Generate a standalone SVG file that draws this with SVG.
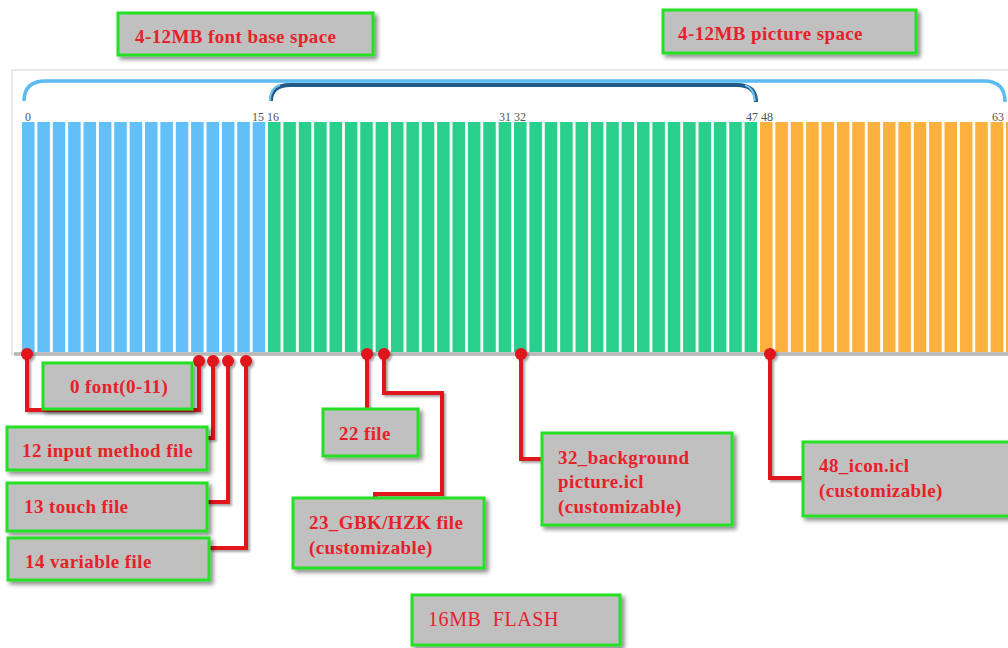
<svg xmlns="http://www.w3.org/2000/svg" width="1008" height="648" viewBox="0 0 1008 648">
<style>
.box{fill:#c0c0c0;stroke:#27e027;stroke-width:3;filter:url(#sh)}
.t{font-family:"Liberation Serif","Times New Roman",serif;font-weight:bold;font-size:19px;letter-spacing:0.4px;fill:#e8202a}
.tn{font-family:"Liberation Serif","Times New Roman",serif;font-size:20px;letter-spacing:0.6px;fill:#e8202a;white-space:pre}
.num{font-family:"Liberation Serif","Times New Roman",serif;font-size:12px;fill:#555}
.c{fill:none;stroke:#e0121a;stroke-width:4;stroke-linejoin:miter}
.dot{fill:#e0121a}
</style>
<defs>
<filter id="sh" x="-10%" y="-20%" width="130%" height="150%">
<feDropShadow dx="3" dy="3" stdDeviation="2" flood-color="#000" flood-opacity="0.45"/>
</filter>
<filter id="lsh" x="-20%" y="-20%" width="140%" height="140%">
<feDropShadow dx="2" dy="2" stdDeviation="1.2" flood-color="#000" flood-opacity="0.35"/>
</filter>
<pattern id="pb" patternUnits="userSpaceOnUse" x="22" y="0" width="15.375" height="648"><rect x="0" y="0" width="12.6" height="648" fill="#62bff7"/></pattern>
<pattern id="pg" patternUnits="userSpaceOnUse" x="22" y="0" width="15.375" height="648"><rect x="0" y="0" width="12.6" height="648" fill="#2bcf8d"/></pattern>
<pattern id="po" patternUnits="userSpaceOnUse" x="22" y="0" width="15.375" height="648"><rect x="0" y="0" width="12.6" height="648" fill="#fcb03d"/></pattern>
</defs>
<rect width="1008" height="648" fill="#ffffff"/>
<g id="panel">
<rect x="12" y="70" width="1010" height="284" fill="#ffffff" stroke="#e2e2e2" stroke-width="1.5"/>
<rect x="14" y="352" width="1000" height="4" fill="#9a9a9a" opacity="0.6"/>
<rect x="22" y="122" width="246" height="230" fill="url(#pb)"/>
<rect x="268" y="122" width="492" height="230" fill="url(#pg)"/>
<rect x="760" y="122" width="250" height="230" fill="url(#po)"/>
<path d="M24,101 Q24,81 46,81 L984,81 Q1005,81 1005,102" fill="none" stroke="#5cbbf0" stroke-width="3.5"/>
<path d="M271,101 Q271,85 290,85 L737,85 Q756,85 756,102" fill="none" stroke="#235a86" stroke-width="4"/>
<path d="M270,101 Q270,88 280,85" fill="none" stroke="#6cc4f4" stroke-width="2"/>
<path d="M745,85 Q754,88 755,101" fill="none" stroke="#6cc4f4" stroke-width="2"/>
<text class="num" x="25" y="121">0</text>
<text class="num" x="252" y="121">15</text>
<text class="num" x="267" y="121">16</text>
<text class="num" x="499" y="121">31</text>
<text class="num" x="514" y="121">32</text>
<text class="num" x="746" y="121">47</text>
<text class="num" x="761" y="121">48</text>
<text class="num" x="992" y="121">63</text>
</g>
<g id="connectors" filter="url(#lsh)">
<path class="c" d="M27,354 V410 H199 V361"/>
<path class="c" d="M213,361 V438 H207"/>
<path class="c" d="M228,361 V502 H207"/>
<path class="c" d="M246,361 V548 H209"/>
<path class="c" d="M367,354 V409"/>
<path class="c" d="M384,354 V393 H442 V494 H375 V498"/>
<path class="c" d="M521,354 V459 H542"/>
<path class="c" d="M770,354 V478 H803"/>
<circle class="dot" cx="27" cy="354" r="6"/>
<circle class="dot" cx="199" cy="361" r="6"/>
<circle class="dot" cx="213" cy="361" r="6"/>
<circle class="dot" cx="228" cy="361" r="6"/>
<circle class="dot" cx="246" cy="361" r="6"/>
<circle class="dot" cx="367" cy="354" r="6"/>
<circle class="dot" cx="384" cy="354" r="6"/>
<circle class="dot" cx="521" cy="354" r="6"/>
<circle class="dot" cx="770" cy="354" r="6"/>
</g>
<g id="font-space"><rect class="box" x="118" y="13" width="255" height="42"/><text class="t" x="135" y="43" letter-spacing="0.8">4-12MB font base space</text></g>
<g id="picture-space"><rect class="box" x="663" y="10" width="253" height="43"/><text class="t" x="678" y="40">4-12MB picture space</text></g>
<g id="n0"><rect class="box" x="43" y="363" width="149" height="46"/><text class="t" x="70" y="393">0 font(0-11)</text></g>
<g id="n12"><rect class="box" x="7" y="427" width="200" height="43"/><text class="t" x="22" y="457">12 input method file</text></g>
<g id="n13"><rect class="box" x="7" y="483" width="200" height="48"/><text class="t" x="24" y="513">13 touch file</text></g>
<g id="n14"><rect class="box" x="8" y="538" width="201" height="42"/><text class="t" x="25" y="568">14 variable file</text></g>
<g id="n22"><rect class="box" x="323" y="409" width="95" height="47"/><text class="t" x="339" y="440">22 file</text></g>
<g id="n23"><rect class="box" x="293" y="498" width="191" height="70"/><text class="t" x="309" y="529">23_GBK/HZK file</text><text class="t" x="309" y="554">(customizable)</text></g>
<g id="n32"><rect class="box" x="542" y="433" width="190" height="92"/><text class="t" x="558" y="464">32_background</text><text class="t" x="558" y="488">picture.icl</text><text class="t" x="558" y="513">(customizable)</text></g>
<g id="n48"><rect class="box" x="803" y="442" width="215" height="74"/><text class="t" x="819" y="472">48_icon.icl</text><text class="t" x="819" y="497">(customizable)</text></g>
<g id="flash"><rect class="box" x="412" y="595" width="208" height="50"/><text class="tn" x="428" y="626" xml:space="preserve">16MB  FLASH</text></g>
</svg>
